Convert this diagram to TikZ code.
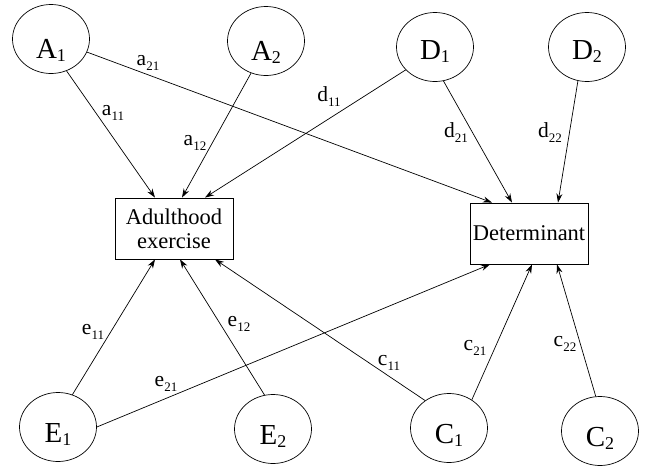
\documentclass[tikz,border=0pt]{standalone}
\usepackage{fontspec}
\setmainfont{Liberation Serif}
\usetikzlibrary{shapes.geometric,arrows.meta}
\newcommand\vsub[2]{#1\raisebox{-3pt}{\fontsize{18}{18}\selectfont #2}}
\newcommand\esub[2]{#1\raisebox{-5pt}{\fontsize{13}{13}\selectfont #2}}
\begin{document}
\begin{tikzpicture}[x=1pt,y=-1pt,
  var/.style={draw, ellipse, line width=0.7pt, minimum width=77pt, minimum height=69pt,
    inner sep=0pt, font=\fontsize{29}{30}\selectfont, text depth=4pt, text height=#1},
  var/.default=33pt,
  box/.style={draw, rectangle, line width=0.8pt, minimum width=118pt, minimum height=61pt,
    inner sep=0pt, align=center, font=\fontsize{22.5}{24}\selectfont},
  arr/.style={-{Stealth[length=9pt,width=6pt]}, line width=0.7pt},
  lab/.style={font=\fontsize{21.5}{22}\selectfont, inner sep=0pt}]
\useasboundingbox (0,0) rectangle (646,466);
% variables
\node[var=43pt] (A1) at (51,39) {\vsub{A}{1}};
\node[var=43pt] (A2) at (266,41) {\vsub{A}{2}};
\node[var=29pt] (D1) at (435,47) {\vsub{D}{1}};
\node[var=29pt] (D2) at (587,47) {\vsub{D}{2}};
\node[var=35pt] (E1) at (58,427) {\vsub{E}{1}};
\node[var=35pt] (E2) at (273,429) {\vsub{E}{2}};
\node[var=35pt] (C1) at (449,428) {\vsub{C}{1}};
\node[var=35pt] (C2) at (600,431) {\vsub{C}{2}};
% boxes
\node[box] (ad) at (174,228.5) {Adulthood\\exercise};
\node[box] (det) at (529,233.5) {Determinant};
% connectors
\draw[arr] (A1.-64) -- ([xshift=-19pt]ad.north);
\draw[arr] (A1.-20) -- ([xshift=-37pt]det.north);
\draw[arr] (A2.-115) -- ([xshift=8pt]ad.north);
\draw[arr] (D1.-142) -- ([xshift=31pt]ad.north);
\draw[arr] (D1.-76) -- ([xshift=-17pt]det.north);
\draw[arr] (D2.-105) -- ([xshift=29pt]det.north);
\draw[arr] (E1.66) -- ([xshift=-19pt]ad.south);
\draw[arr] (E1.0) -- ([xshift=-39pt]det.south);
\draw[arr] (E2.104) -- ([xshift=6pt]ad.south);
\draw[arr] (C1.131) -- ([xshift=41pt]ad.south);
\draw[arr] (C1.51) -- ([xshift=3pt]det.south);
\draw[arr] (C2.97) -- ([xshift=28pt]det.south);
% labels
\node[lab] (la21) at (148,63) {\esub{a}{21}};
\node[lab] (la11) at (113,113) {\esub{a}{11}};
\node[lab] (la12) at (195,143) {\esub{a}{12}};
\node[lab] (ld11) at (329,97) {\esub{d}{11}};
\node[lab] (ld21) at (456,133) {\esub{d}{21}};
\node[lab] (ld22) at (550,133) {\esub{d}{22}};
\node[lab] (le11) at (93,332) {\esub{e}{11}};
\node[lab] (le12) at (239,324) {\esub{e}{12}};
\node[lab] (le21) at (166,384) {\esub{e}{21}};
\node[lab] (lc11) at (389,363) {\esub{c}{11}};
\node[lab] (lc21) at (475,348) {\esub{c}{21}};
\node[lab] (lc22) at (565,344) {\esub{c}{22}};
\end{tikzpicture}
\end{document}
